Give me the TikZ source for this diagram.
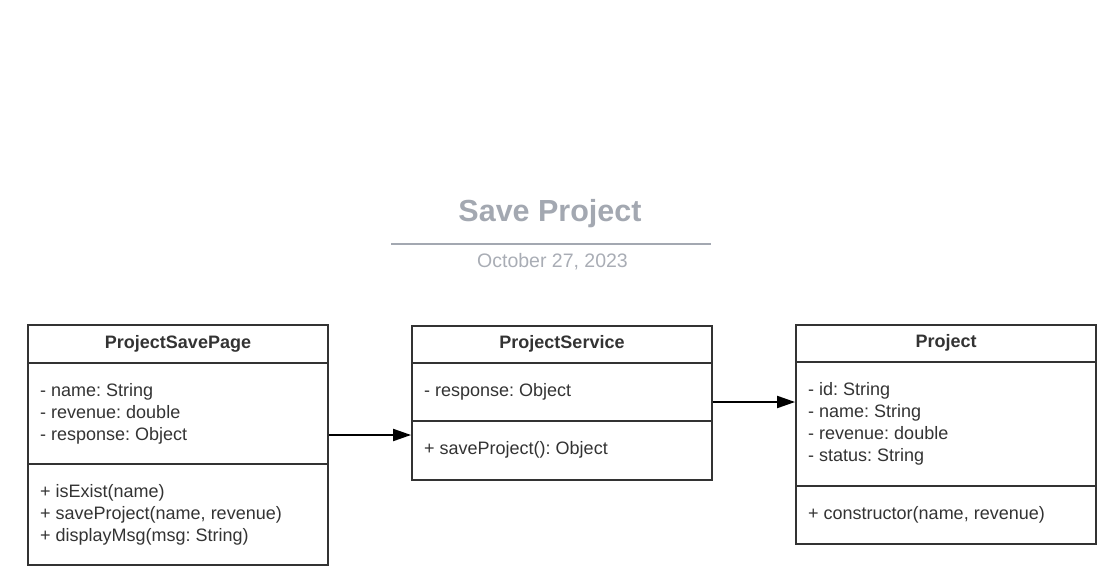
\documentclass[tikz,border=0pt]{standalone}
\usepackage{fontspec}
\setmainfont{Liberation Sans}
\usetikzlibrary{arrows.meta}
\frenchspacing
\definecolor{ink}{HTML}{333333}
\definecolor{titlegrey}{HTML}{A3A8B1}
\definecolor{dategrey}{HTML}{A9ADB5}
\tikzset{
  classbox/.style={draw=ink, line width=1.8pt, rectangle, inner sep=0pt, minimum width=300pt},
  divider/.style={draw=ink, line width=1.8pt},
  head/.style={anchor=base, inner sep=0pt, text=ink, font=\fontsize{18}{22}\selectfont\bfseries},
  item/.style={anchor=base west, inner sep=0pt, text=ink, font=\fontsize{18}{22}\selectfont\frenchspacing},
  arr/.style={draw=black, line width=2pt, -{Triangle[length=18pt,width=12pt]}},
}
\begin{document}
\begin{tikzpicture}[x=1pt,y=-1pt]
\useasboundingbox (0,0) rectangle (1115,572);
% title
\node[anchor=base, inner sep=0pt, text=titlegrey, font=\fontsize{30.5}{36}\selectfont\bfseries] (title) at (550,221.5) {Save Project};
\coordinate (tl) at (391,244);
\coordinate (tr) at (711,244);
\draw[titlegrey, line width=1.8pt] (tl) -- (tr);
\node[anchor=base, inner sep=0pt, text=dategrey, font=\fontsize{19.5}{24}\selectfont] (date) at (552.5,267) {October 27, 2023};

% ProjectSavePage
\node[classbox, minimum height=240pt] (psp) at (178,445) {};
\draw[divider] (psp.west |- 0,363) -- (psp.east |- 0,363);
\draw[divider] (psp.west |- 0,464) -- (psp.east |- 0,464);
\node[head] (psph) at (178,348) {ProjectSavePage};
\node[item] (psp1) at (40,396) {- name: String};
\node[item] (psp2) at (40,418) {- revenue: double};
\node[item] (psp3) at (40,440) {- response: Object};
\node[item] (psp4) at (40,497.5) {+ isExist(name)};
\node[item] (psp5) at (40,519.5) {+ saveProject(name, revenue)};
\node[item] (psp6) at (40,541) {+ displayMsg(msg: String)};

% ProjectService
\node[classbox, minimum height=154pt] (ps) at (562,403) {};
\draw[divider] (ps.west |- 0,363) -- (ps.east |- 0,363);
\draw[divider] (ps.west |- 0,421) -- (ps.east |- 0,421);
\node[head] (psh) at (562,348.5) {ProjectService};
\node[item] (ps1) at (424,396.5) {- response: Object};
\node[item] (ps2) at (424,454.5) {+ saveProject(): Object};

% Project
\node[classbox, minimum height=219pt] (pr) at (946,434.5) {};
\draw[divider] (pr.west |- 0,362) -- (pr.east |- 0,362);
\draw[divider] (pr.west |- 0,486) -- (pr.east |- 0,486);
\node[head] (prh) at (946,347.5) {Project};
\node[item] (pr1) at (808,395.5) {- id: String};
\node[item] (pr2) at (808,417.5) {- name: String};
\node[item] (pr3) at (808,439) {- revenue: double};
\node[item] (pr4) at (808,461) {- status: String};
\node[item] (pr5) at (808,519.5) {+ constructor(name, revenue)};

% connectors
\coordinate (a1) at (psp.east |- 0,435);
\draw[arr] (a1) -- (a1 -| ps.west);
\coordinate (a2) at (ps.east |- 0,402);
\draw[arr] (a2) -- (a2 -| pr.west);
\end{tikzpicture}
\end{document}
